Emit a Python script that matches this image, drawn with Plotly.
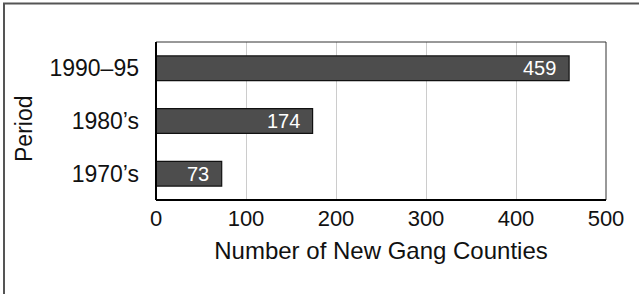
import plotly.graph_objects as go

periods = ["1970\u2019s", "1980\u2019s", "1990\u201395"]
new_counties = [73, 174, 459]
x_ticks = [0, 100, 200, 300, 400, 500]

W, H = 639, 294
L, R, T, B = 156, 33, 42, 94
pw, ph = W - L - R, H - T - B
FONT = "Liberation Sans, Arial, sans-serif"

fig = go.Figure()
fig.add_trace(go.Bar(
    y=periods, x=new_counties, orientation="h",
    marker=dict(color="#4d4d4d", line=dict(color="#111111", width=1.2)),
    width=0.47,
    cliponaxis=False,
    hoverinfo="skip",
))

annotations = [
    dict(x=v, y=p, xref="x", yref="y", text=str(v), showarrow=False,
         xanchor="right", yanchor="middle", xshift=-11,
         font=dict(color="white", size=20, family=FONT))
    for p, v in zip(periods, new_counties)
]
annotations.append(
    dict(text="Period", xref="paper", yref="paper",
         x=(24 - L) / pw, y=1 - (129 - T) / ph, textangle=-90,
         showarrow=False, xanchor="center", yanchor="middle",
         font=dict(size=23, family=FONT))
)

fig.update_layout(
    width=W, height=H,
    margin=dict(l=L, r=R, t=T, b=B),
    paper_bgcolor="white", plot_bgcolor="white",
    font=dict(family=FONT, color="#111111", size=22),
    showlegend=False,
    xaxis=dict(
        range=[0, 500], tickvals=x_ticks, ticks="", showgrid=True,
        gridcolor="#cccccc", gridwidth=1, zeroline=False,
        showline=False, tickfont=dict(size=22),
        ticklabelstandoff=3,
        title=dict(text="Number of New Gang Counties", font=dict(size=24), standoff=12),
    ),
    yaxis=dict(
        ticks="", showgrid=False, zeroline=False, showline=False,
        tickfont=dict(size=23), ticklabelstandoff=16,
        categoryorder="array", categoryarray=periods,
    ),
    shapes=[
        dict(type="rect", xref="paper", yref="paper", x0=0, x1=1, y0=0, y1=1,
             line=dict(color="#333333", width=1)),
        dict(type="line", xref="paper", yref="paper", x0=0, x1=0, y0=0, y1=1,
             line=dict(color="#000000", width=2)),
        dict(type="line", xref="paper", yref="paper", x0=0, x1=1, y0=0, y1=0,
             line=dict(color="#000000", width=2)),
        dict(type="rect", xref="paper", yref="paper",
             x0=(4 - L) / pw, x1=1.3, y0=-1.0, y1=1 + (T - 3.5) / ph,
             line=dict(color="#555555", width=2), layer="below"),
    ],
    annotations=annotations,
)

fig.write_html("out.html",
               config={"displayModeBar": False, "staticPlot": True},
               post_script="document.body.style.margin='0';document.body.style.overflow='hidden';")
